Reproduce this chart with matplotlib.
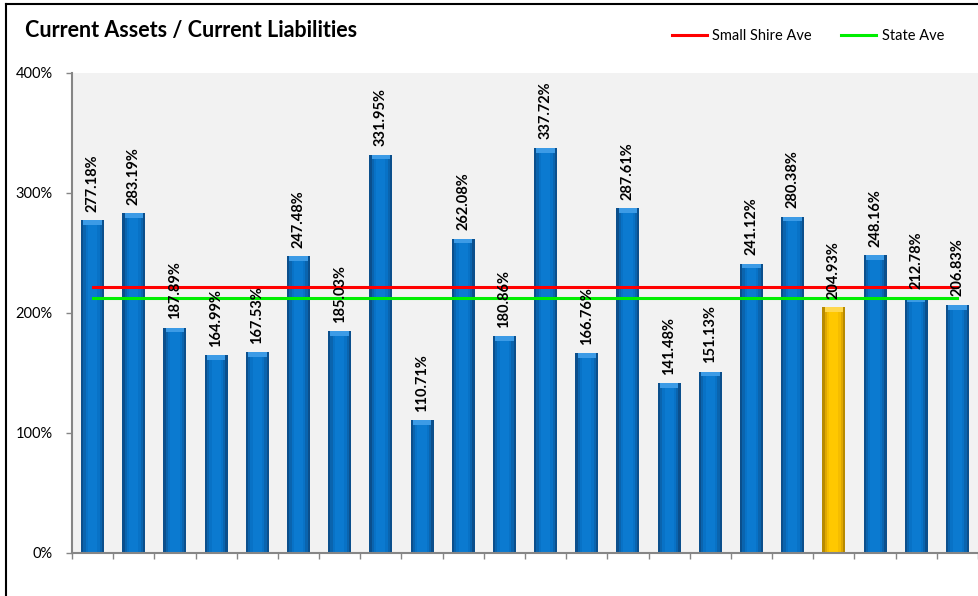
import matplotlib
matplotlib.use("Agg")
import matplotlib.pyplot as plt
from matplotlib.lines import Line2D
import numpy as np

plt.rcParams['font.family'] = ['Lato', 'DejaVu Sans']

values = [277.18, 283.19, 187.89, 164.99, 167.53, 247.48, 185.03, 331.95, 110.71, 262.08, 180.86,
          337.72, 166.76, 287.61, 141.48, 151.13, 241.12, 280.38, 204.93, 248.16, 212.78, 206.83]
highlight = 18
small_shire_ave = 221.9
state_ave = 212.5
yticks = [0, 100, 200, 300, 400]
title = 'Current Assets / Current Liabilities'

fig = plt.figure(figsize=(9.79, 5.96), dpi=100)
ax = fig.add_axes([72/979, 1 - 553/596, 906/979, 480/596])
ax.set_facecolor('#f2f2f2')

x = np.arange(len(values))
w = 0.56
# cylinder-like shading: dark base, lighter stripes toward the middle
blue_shades = ['#0b4f8c', '#0a64ae', '#0872c6', '#0b7ad0']
gold_shades = ['#b88a00', '#e0a800', '#f5bd00', '#ffc800']
for i, v in enumerate(values):
    shades = gold_shades if i == highlight else blue_shades
    for k, c in enumerate(shades):
        ww = w * (1 - 0.2 * k)
        ax.bar(x[i], v, width=ww, color=c, linewidth=0, zorder=2 + k * 0.01)
    cap = '#ffd84d' if i == highlight else '#3c9be6'
    ax.bar(x[i], 4, bottom=v - 4, width=w * 0.8, color=cap, linewidth=0, zorder=2.1)
    ax.annotate('%.2f%%' % v, (x[i], v), xytext=(0, 6), textcoords='offset points',
                rotation=90, ha='center', va='bottom', fontsize=10.5, fontweight='bold', zorder=4)

ax.plot([x[0], x[-1]], [small_shire_ave] * 2, color='#ff0000', lw=2.2, zorder=3)
ax.plot([x[0], x[-1]], [state_ave] * 2, color='#00ee00', lw=2.2, zorder=3)

ax.set_xlim(-0.5, len(values) - 0.5)
ax.set_ylim(0, 400)
ax.set_yticks(yticks)
ax.set_yticklabels(['%d%%' % t for t in yticks], fontsize=10.5)
ax.set_xticks(np.arange(len(values) + 1) - 0.5)
ax.set_xticklabels([])
ax.tick_params(axis='both', direction='out', length=4, color='#868686', width=1)
ax.tick_params(axis='y', pad=10)
for s in ['top', 'right']:
    ax.spines[s].set_visible(False)
for s in ['left', 'bottom']:
    ax.spines[s].set_color('#868686')
    ax.spines[s].set_linewidth(1.5)

fig.text(25/979, 1 - 30/596, title, fontsize=15.5, fontweight='bold', va='center', ha='left')

handles = [Line2D([], [], color='#ff0000', lw=2.2), Line2D([], [], color='#00ee00', lw=2.2)]
fig.legend(handles, ['Small Shire Ave', 'State Ave'], loc='center', bbox_to_anchor=(808/979, 1 - 36/596),
           ncol=2, frameon=False, fontsize=10.5, handlelength=2.4, columnspacing=2.0, handletextpad=0.4)

# outer chart border (left and top visible)
fig.add_artist(Line2D([6/979, 6/979], [0, 1 - 4/596], color='black', lw=1.5))
fig.add_artist(Line2D([6/979, 1], [1 - 4/596, 1 - 4/596], color='black', lw=1.5))

fig.savefig('out.png', dpi=100)
